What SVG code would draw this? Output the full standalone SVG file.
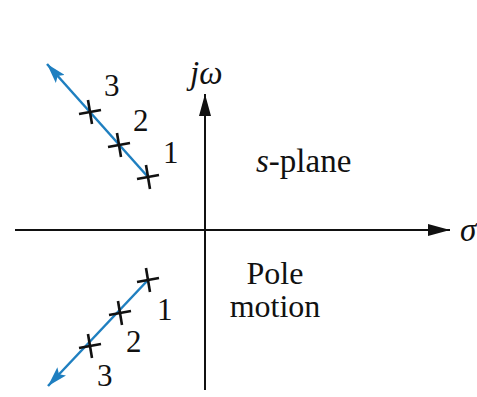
<svg xmlns="http://www.w3.org/2000/svg" width="477" height="397" viewBox="0 0 477 397">
<defs>
<marker id="ah" markerWidth="22" markerHeight="12" refX="22" refY="6" orient="auto" markerUnits="userSpaceOnUse"><path d="M0,0 L22,6 L0,12 Z" fill="#111"/></marker>
<marker id="bh" markerWidth="20" markerHeight="12" refX="20" refY="6" orient="auto" markerUnits="userSpaceOnUse"><path d="M0,0 L20,6 L0,12 L4,6 Z" fill="#1f7fc0"/></marker>
<g id="x"><line x1="-11" y1="2" x2="11" y2="-2"/><line x1="-2" y1="-12" x2="2" y2="12"/></g>
</defs>
<style>
.ax{stroke:#111;stroke-width:2;fill:none}
.bl{stroke:#1f7fc0;stroke-width:2.5;fill:none}
.cr{stroke:#111;stroke-width:2.6}
</style>
<rect width="477" height="397" fill="#fff"/>
<g id="connectors">
<line class="ax" x1="15" y1="230" x2="450" y2="230" marker-end="url(#ah)"/>
<line class="ax" x1="205" y1="390" x2="205" y2="94" marker-end="url(#ah)"/>
<line class="bl" x1="148" y1="177" x2="47" y2="64" marker-end="url(#bh)"/>
<line class="bl" x1="148" y1="280" x2="48" y2="386" marker-end="url(#bh)"/>
</g>
<g id="poles-upper" class="cr">
<use href="#x" x="90" y="112"/>
<use href="#x" x="119" y="145"/>
<use href="#x" x="148" y="177"/>
</g>
<g id="poles-lower" class="cr">
<use href="#x" x="148" y="280"/>
<use href="#x" x="120" y="313"/>
<use href="#x" x="90" y="346"/>
</g>
<g id="labels-upper" fill="#111">
<text x="104" y="96" font-family="Liberation Serif" font-size="31">3</text>
<text x="133" y="131" font-family="Liberation Serif" font-size="31">2</text>
<text x="163" y="163" font-family="Liberation Serif" font-size="31">1</text>
</g>
<g id="labels-lower" fill="#111">
<text x="157" y="320" font-family="Liberation Serif" font-size="31">1</text>
<text x="126" y="352" font-family="Liberation Serif" font-size="31">2</text>
<text x="97" y="386" font-family="Liberation Serif" font-size="31">3</text>
</g>
<g id="axis-labels" fill="#111">
<text x="190" y="84" font-family="Liberation Serif" font-size="33" font-style="italic">j&#969;</text>
<text x="460" y="241" font-family="Liberation Serif" font-size="33" font-style="italic">&#963;</text>
</g>
<g id="s-plane" fill="#111"><text x="256" y="172" font-family="Liberation Serif" font-size="33"><tspan font-style="italic">s</tspan>-plane</text></g>
<g id="pole-motion" fill="#111">
<text x="275" y="284" text-anchor="middle" font-family="Liberation Serif" font-size="32">Pole</text>
<text x="275" y="317" text-anchor="middle" font-family="Liberation Serif" font-size="32">motion</text>
</g>
</svg>
